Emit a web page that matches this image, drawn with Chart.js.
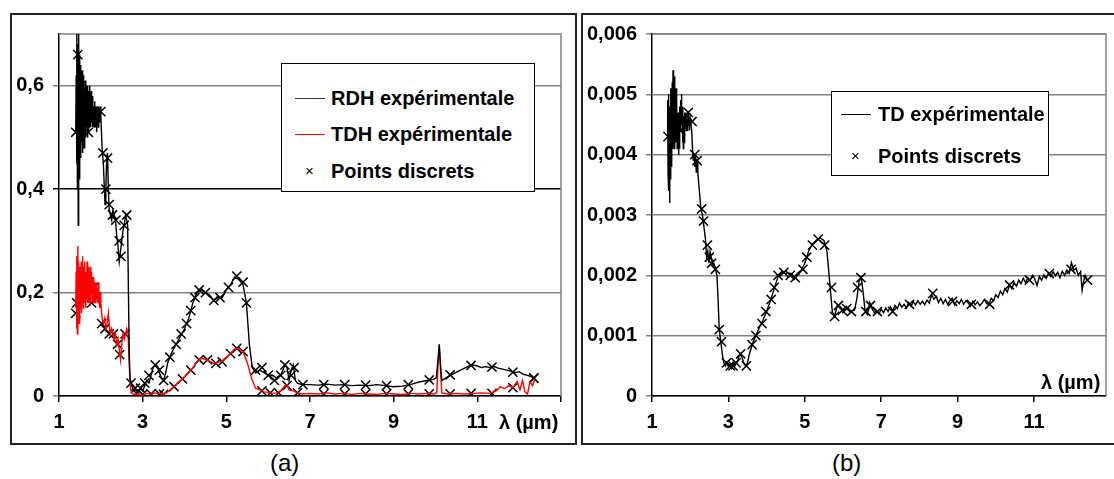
<!DOCTYPE html>
<html>
<head>
<meta charset="utf-8">
<script src="https://cdn.jsdelivr.net/npm/chart.js@4.4.0/dist/chart.umd.min.js"></script>
<style>
body{margin:0;background:#fff;width:1114px;height:479px;overflow:hidden;position:relative;font-family:"Liberation Sans",Arial,sans-serif;}
canvas{position:absolute;}
.panel{position:absolute;border:2px solid #222;box-sizing:border-box;}
.legend{position:absolute;background:#fff;border:1px solid #000;box-sizing:border-box;font-weight:bold;font-size:20px;color:#000;}
.legend .row{position:absolute;left:0;height:22px;line-height:22px;white-space:nowrap;}
.legend .smp{position:absolute;top:11px;width:30px;height:0;border-top:1px solid #000;}
.legend .mk{position:absolute;top:0;font-weight:normal;font-size:15px;}
.legend .txt{position:absolute;top:0;}
.lbl{position:absolute;font-weight:bold;font-size:20px;white-space:nowrap;line-height:22px;}
.cap{position:absolute;font-size:24px;line-height:28px;}
</style>
</head>
<body>
<canvas id="chartA" width="567" height="432" style="left:10px;top:13px;"></canvas>
<canvas id="chartB" width="537" height="432" style="left:581px;top:13px;"></canvas>
<div class="panel" style="left:10px;top:13px;width:567px;height:432px;"></div>
<div class="panel" style="left:581px;top:13px;width:540px;height:432px;"></div>

<div class="legend" style="left:281px;top:63px;width:254px;height:129px;">
  <div class="row" style="top:23px;"><span class="smp" style="left:13px;border-color:#333;"></span><span class="txt" style="left:49px;">RDH expérimentale</span></div>
  <div class="row" style="top:59px;"><span class="smp" style="left:13px;border-color:#f00;"></span><span class="txt" style="left:49px;">TDH expérimentale</span></div>
  <div class="row" style="top:96px;"><span class="mk" style="left:23px;">×</span><span class="txt" style="left:49px;">Points discrets</span></div>
</div>
<div class="legend" style="left:831px;top:91px;width:218px;height:85px;">
  <div class="row" style="top:11px;"><span class="smp" style="left:9px;"></span><span class="txt" style="left:46px;">TD expérimentale</span></div>
  <div class="row" style="top:53px;"><span class="mk" style="left:19px;">×</span><span class="txt" style="left:46px;">Points discrets</span></div>
</div>

<div class="lbl" style="left:499px;top:411px;">λ (µm)</div>
<div class="lbl" style="left:1041px;top:371px;">λ (µm)</div>
<div class="cap" style="left:270px;top:449px;">(a)</div>
<div class="cap" style="left:832px;top:449px;">(b)</div>

<script>
// ---- panel (a) data : [lambda (µm), value]
var rdhPoints = [
 [1.40,0.51],[1.41,0.62],[1.42,0.45],[1.43,0.70],[1.44,0.40],[1.45,0.68],[1.46,0.33],[1.47,0.70],[1.48,0.42],[1.49,0.66],
 [1.50,0.47],[1.51,0.64],[1.52,0.46],[1.53,0.61],[1.54,0.49],[1.55,0.63],[1.56,0.47],[1.57,0.60],[1.58,0.50],[1.59,0.62],
 [1.60,0.48],[1.61,0.59],[1.62,0.51],[1.63,0.61],[1.64,0.50],[1.65,0.60],[1.66,0.52],[1.67,0.58],[1.68,0.50],[1.69,0.60],
 [1.70,0.51],[1.71,0.59],[1.72,0.52],[1.73,0.60],[1.74,0.53],[1.75,0.58],[1.76,0.52],[1.77,0.59],[1.78,0.53],[1.79,0.57],
 [1.80,0.52],[1.81,0.58],[1.82,0.53],[1.83,0.56],[1.84,0.52],[1.85,0.57],[1.86,0.53],[1.87,0.56],[1.88,0.52],[1.89,0.55],
 [1.90,0.51],[1.91,0.56],[1.92,0.53],[1.93,0.55],[1.94,0.52],[1.95,0.56],[1.96,0.53],[1.97,0.55],[1.98,0.54],[1.99,0.56],
 [2.00,0.54],[2.03,0.48],[2.06,0.45],[2.08,0.41],[2.10,0.37],[2.12,0.40],[2.14,0.46],[2.16,0.47],[2.18,0.40],[2.20,0.36],
 [2.23,0.35],[2.26,0.34],[2.29,0.36],[2.32,0.35],[2.35,0.34],[2.38,0.31],[2.41,0.29],[2.44,0.26],[2.47,0.28],[2.50,0.30],
 [2.53,0.32],[2.56,0.33],[2.59,0.35],[2.62,0.34],[2.64,0.33],[2.66,0.20],[2.68,0.08],[2.70,0.03],[2.72,0.025],[2.76,0.015],
 [2.80,0.01],[2.85,0.012],[2.90,0.008],[2.95,0.015],[3.00,0.01],[3.05,0.02],[3.10,0.03],[3.15,0.025],[3.20,0.04],[3.25,0.055],
 [3.30,0.06],[3.35,0.058],[3.40,0.045],[3.45,0.035],[3.50,0.03],[3.55,0.045],[3.60,0.065],[3.65,0.075],[3.70,0.085],[3.80,0.10],
 [3.90,0.115],[4.00,0.13],[4.10,0.15],[4.20,0.18],[4.30,0.20],[4.40,0.205],[4.50,0.20],[4.60,0.195],[4.70,0.185],[4.80,0.19],
 [4.90,0.19],[5.00,0.205],[5.10,0.215],[5.20,0.23],[5.30,0.225],[5.40,0.215],[5.48,0.18],[5.55,0.10],[5.62,0.055],[5.70,0.045],
 [5.80,0.05],[5.90,0.045],[6.00,0.04],[6.10,0.04],[6.20,0.035],[6.30,0.04],[6.40,0.06],[6.45,0.055],[6.50,0.03],[6.55,0.05],
 [6.60,0.06],[6.65,0.03],[6.70,0.025],[6.80,0.022],[7.00,0.022],[7.20,0.021],[7.40,0.023],[7.60,0.021],[7.80,0.022],[8.00,0.02],
 [8.20,0.021],[8.40,0.02],[8.60,0.022],[8.80,0.02],[9.00,0.018],[9.20,0.019],[9.40,0.022],[9.60,0.027],[9.80,0.03],[9.95,0.032],
 [10.02,0.035],[10.06,0.07],[10.09,0.10],[10.12,0.06],[10.15,0.03],[10.25,0.035],[10.40,0.042],[10.60,0.05],[10.80,0.058],[10.90,0.06],
 [11.00,0.058],[11.10,0.055],[11.20,0.057],[11.30,0.055],[11.40,0.057],[11.50,0.054],[11.60,0.052],[11.70,0.05],[11.80,0.048],[11.90,0.045],
 [12.00,0.047],[12.10,0.042],[12.20,0.04],[12.30,0.037],[12.38,0.034]
];
var tdhPoints = [
 [1.40,0.17],[1.41,0.24],[1.42,0.13],[1.43,0.27],[1.44,0.12],[1.45,0.29],[1.46,0.16],[1.47,0.26],[1.48,0.14],[1.49,0.25],
 [1.50,0.15],[1.51,0.23],[1.52,0.17],[1.53,0.26],[1.54,0.16],[1.55,0.24],[1.56,0.18],[1.57,0.27],[1.58,0.17],[1.59,0.25],
 [1.60,0.19],[1.61,0.26],[1.62,0.18],[1.63,0.24],[1.64,0.17],[1.65,0.23],[1.66,0.19],[1.67,0.26],[1.68,0.18],[1.69,0.24],
 [1.70,0.19],[1.71,0.25],[1.72,0.18],[1.73,0.23],[1.74,0.19],[1.75,0.25],[1.76,0.18],[1.77,0.24],[1.78,0.20],[1.79,0.23],
 [1.80,0.18],[1.81,0.22],[1.82,0.19],[1.83,0.23],[1.84,0.18],[1.85,0.22],[1.86,0.19],[1.87,0.21],[1.88,0.18],[1.89,0.22],
 [1.90,0.19],[1.91,0.21],[1.92,0.18],[1.93,0.21],[1.94,0.19],[1.95,0.22],[1.96,0.18],[1.97,0.20],[1.98,0.17],[1.99,0.20],
 [2.00,0.18],[2.03,0.15],[2.06,0.14],[2.09,0.15],[2.12,0.13],[2.15,0.14],[2.18,0.16],[2.20,0.14],[2.23,0.12],[2.26,0.13],
 [2.29,0.12],[2.32,0.11],[2.35,0.12],[2.38,0.10],[2.41,0.11],[2.44,0.09],[2.47,0.07],[2.50,0.10],[2.53,0.12],[2.56,0.11],
 [2.59,0.12],[2.62,0.13],[2.65,0.12],[2.68,0.06],[2.71,0.015],[2.75,0.005],[2.80,0.003],[2.90,0.004],[3.00,0.002],[3.10,0.005],
 [3.20,0.004],[3.30,0.006],[3.40,0.004],[3.50,0.003],[3.60,0.008],[3.70,0.015],[3.80,0.022],[3.90,0.03],[4.00,0.037],[4.10,0.045],
 [4.20,0.055],[4.30,0.066],[4.40,0.073],[4.50,0.071],[4.60,0.067],[4.70,0.063],[4.80,0.065],[4.90,0.068],[5.00,0.075],[5.10,0.082],
 [5.20,0.091],[5.30,0.092],[5.40,0.085],[5.50,0.065],[5.60,0.035],[5.70,0.015],[5.80,0.012],[5.90,0.008],[6.00,0.007],[6.10,0.005],
 [6.20,0.006],[6.30,0.01],[6.40,0.02],[6.45,0.022],[6.50,0.012],[6.60,0.01],[6.70,0.006],[6.80,0.004],[7.00,0.005],[7.20,0.004],
 [7.40,0.006],[7.60,0.004],[7.80,0.005],[8.00,0.003],[8.20,0.005],[8.40,0.004],[8.60,0.003],[8.80,0.005],[9.00,0.004],[9.20,0.003],
 [9.40,0.005],[9.60,0.004],[9.80,0.005],[9.95,0.004],[10.03,0.006],[10.06,0.06],[10.09,0.098],[10.12,0.05],[10.15,0.006],[10.30,0.004],
 [10.50,0.005],[10.70,0.004],[10.90,0.005],[11.10,0.006],[11.30,0.005],[11.45,0.01],[11.55,0.018],[11.65,0.014],[11.75,0.02],[11.85,0.016],
 [11.95,0.028],[12.02,0.012],[12.08,0.03],[12.14,0.008],[12.20,0.004],[12.26,0.028],[12.32,0.02],[12.38,0.034]
];
var rdhCrosses = [
 [1.40,0.51],[1.45,0.66],[1.70,0.51],[1.88,0.54],[2.00,0.55],[2.05,0.47],[2.12,0.40],[2.16,0.46],[2.20,0.37],[2.28,0.35],
 [2.36,0.34],[2.44,0.30],[2.48,0.27],[2.56,0.33],[2.62,0.35],[2.72,0.025],[2.82,0.015],[2.95,0.015],[3.05,0.025],[3.15,0.04],
 [3.30,0.06],[3.40,0.05],[3.50,0.03],[3.65,0.075],[3.80,0.10],[3.92,0.12],[4.05,0.14],[4.15,0.165],[4.25,0.19],[4.35,0.205],
 [4.50,0.20],[4.70,0.185],[4.85,0.19],[5.05,0.21],[5.25,0.232],[5.40,0.22],[5.48,0.18],[5.70,0.05],[5.85,0.055],[6.00,0.04],
 [6.15,0.03],[6.30,0.04],[6.40,0.06],[6.55,0.04],[6.62,0.055],[6.83,0.022],[7.33,0.022],[7.83,0.022],[8.33,0.021],[8.83,0.02],
 [9.35,0.022],[9.85,0.031],[10.35,0.041],[10.85,0.059],[11.35,0.056],[11.85,0.046],[12.35,0.035]
];
var tdhCrosses = [
 [1.40,0.16],[1.42,0.18],[1.52,0.21],[1.58,0.22],[1.65,0.19],[1.72,0.21],[1.78,0.18],[1.85,0.21],[1.90,0.19],[2.02,0.14],
 [2.10,0.13],[2.20,0.12],[2.30,0.12],[2.40,0.10],[2.45,0.08],[2.58,0.12],[2.85,0.005],[3.00,0.003],[3.20,0.004],[3.40,0.004],
 [3.50,0.003],[3.75,0.018],[3.95,0.033],[4.15,0.05],[4.35,0.07],[4.55,0.07],[4.75,0.063],[4.90,0.066],[5.10,0.082],[5.25,0.092],
 [5.40,0.086],[5.85,0.01],[6.05,0.006],[6.25,0.006],[6.45,0.02],[6.70,0.006],[7.33,0.004],[7.83,0.004],[8.33,0.004],[8.83,0.004],
 [9.35,0.004],[9.85,0.004],[10.35,0.004],[10.85,0.005],[11.35,0.005],[11.85,0.016],[12.35,0.034]
];
var xTicksA = [1, 3, 5, 7, 9, 11, 13];
var yTicksA = [0, 0.2, 0.4, 0.6];

// ---- panel (b) data
var tdPoints = [
 [1.40,0.0043],[1.41,0.0049],[1.42,0.0037],[1.43,0.0050],[1.44,0.0034],[1.45,0.0048],[1.46,0.0032],[1.47,0.0047],[1.48,0.0036],[1.49,0.0051],
 [1.50,0.0040],[1.51,0.0049],[1.52,0.0038],[1.53,0.0052],[1.54,0.0041],[1.55,0.0054],[1.56,0.0042],[1.57,0.0050],[1.58,0.0041],[1.59,0.0053],
 [1.60,0.0043],[1.61,0.0048],[1.62,0.0042],[1.63,0.0051],[1.64,0.0044],[1.65,0.0049],[1.66,0.0041],[1.67,0.0047],[1.68,0.0042],[1.69,0.0046],
 [1.70,0.0040],[1.71,0.0047],[1.72,0.0041],[1.73,0.0048],[1.74,0.0044],[1.75,0.0049],[1.76,0.0045],[1.77,0.0050],[1.78,0.0046],[1.79,0.0048],
 [1.80,0.0042],[1.81,0.0047],[1.82,0.0041],[1.83,0.0046],[1.84,0.0042],[1.85,0.0047],[1.86,0.0044],[1.87,0.0046],[1.88,0.0045],[1.89,0.0047],
 [1.90,0.0044],[1.91,0.0046],[1.92,0.0044],[1.93,0.0046],[1.94,0.0045],[1.95,0.0047],[1.96,0.0045],[1.97,0.0046],[1.98,0.0044],[1.99,0.0045],
 [2.00,0.0046],[2.02,0.0045],[2.04,0.0044],[2.06,0.0041],[2.08,0.0039],[2.10,0.0040],[2.12,0.0038],[2.14,0.0040],[2.16,0.0037],[2.18,0.0039],
 [2.20,0.0037],[2.24,0.0034],[2.28,0.0031],[2.32,0.0030],[2.36,0.0028],[2.40,0.0026],[2.43,0.0023],[2.46,0.0024],[2.49,0.0022],[2.52,0.0024],
 [2.55,0.0023],[2.58,0.0022],[2.62,0.0022],[2.66,0.0021],[2.70,0.0020],[2.73,0.0016],[2.76,0.0011],[2.80,0.0009],[2.84,0.0007],[2.88,0.00055],
 [2.92,0.0005],[2.96,0.00055],[3.00,0.00048],[3.04,0.00052],[3.08,0.00046],[3.12,0.00055],[3.16,0.00048],[3.20,0.00055],[3.25,0.0006],[3.30,0.0007],
 [3.35,0.00065],[3.40,0.00055],[3.45,0.0005],[3.50,0.00055],[3.55,0.0007],[3.60,0.0008],[3.65,0.0009],[3.70,0.00098],[3.80,0.00112],[3.90,0.00125],
 [4.00,0.0014],[4.10,0.00158],[4.20,0.00178],[4.30,0.00198],[4.40,0.00205],[4.50,0.00203],[4.60,0.00204],[4.70,0.00196],[4.80,0.00203],[4.90,0.00208],
 [5.00,0.0022],[5.10,0.0024],[5.20,0.00252],[5.30,0.00258],[5.40,0.00262],[5.50,0.00258],[5.58,0.0024],[5.65,0.0019],[5.72,0.0014],[5.78,0.00132],
 [5.85,0.0015],[5.92,0.00148],[6.00,0.00142],[6.10,0.00145],[6.20,0.0014],[6.30,0.00142],[6.36,0.0016],[6.42,0.0019],[6.48,0.00196],[6.53,0.0017],
 [6.58,0.0014],[6.64,0.00135],[6.70,0.00155],[6.76,0.00145],[6.82,0.00138],[6.88,0.00142],[6.94,0.00136],[7.00,0.00144],[7.06,0.00138],[7.12,0.00146],
 [7.18,0.0014],[7.24,0.00148],[7.30,0.00141],[7.36,0.0015],[7.42,0.00145],[7.48,0.00154],[7.54,0.00147],[7.60,0.00152],[7.66,0.00146],[7.72,0.00155],
 [7.78,0.00149],[7.84,0.00156],[7.90,0.00151],[7.96,0.00158],[8.02,0.00152],[8.08,0.00157],[8.14,0.00151],[8.20,0.00159],[8.26,0.00154],[8.32,0.00168],
 [8.38,0.0016],[8.44,0.00165],[8.50,0.00155],[8.56,0.00162],[8.62,0.00153],[8.68,0.0016],[8.74,0.00152],[8.80,0.00158],[8.86,0.00162],[8.92,0.00151],
 [8.98,0.00158],[9.04,0.00153],[9.10,0.0016],[9.16,0.00152],[9.22,0.00158],[9.28,0.00154],[9.34,0.00149],[9.40,0.00157],[9.46,0.00151],[9.52,0.00156],
 [9.58,0.0015],[9.64,0.00154],[9.70,0.0016],[9.76,0.00153],[9.82,0.00152],[9.88,0.00162],[9.94,0.00158],[10.00,0.00168],[10.06,0.00163],[10.12,0.00174],
 [10.18,0.00168],[10.24,0.00178],[10.30,0.00172],[10.36,0.00184],[10.42,0.00178],[10.48,0.00188],[10.54,0.00182],[10.60,0.00192],[10.66,0.00186],[10.72,0.00195],
 [10.78,0.00188],[10.84,0.00196],[10.90,0.00192],[10.96,0.002],[11.02,0.00194],[11.08,0.00183],[11.14,0.00198],[11.20,0.00192],[11.26,0.00201],[11.32,0.00195],
 [11.38,0.00204],[11.44,0.00198],[11.50,0.00206],[11.56,0.00199],[11.62,0.00205],[11.68,0.00196],[11.74,0.00207],[11.80,0.002],[11.86,0.00209],[11.92,0.00203],
 [11.98,0.00221],[12.04,0.00208],[12.10,0.00212],[12.16,0.002],[12.22,0.00206],[12.26,0.00175],[12.30,0.0019],[12.34,0.002],[12.40,0.00192]
];
var tdCrosses = [
 [1.42,0.0043],[1.55,0.0046],[1.65,0.0045],[1.75,0.0044],[1.85,0.0046],[1.95,0.0047],[2.05,0.00455],[2.12,0.004],[2.18,0.0039],[2.30,0.0031],
 [2.35,0.0029],[2.45,0.0025],[2.50,0.0023],[2.56,0.0022],[2.66,0.0021],[2.76,0.0011],[2.82,0.0009],[2.95,0.00055],[3.05,0.0005],[3.12,0.0005],
 [3.20,0.00055],[3.32,0.0007],[3.47,0.0005],[3.62,0.00085],[3.72,0.001],[3.88,0.0012],[3.98,0.0014],[4.12,0.0016],[4.20,0.0018],[4.30,0.002],
 [4.45,0.00205],[4.62,0.002],[4.75,0.00196],[4.95,0.0021],[5.05,0.0023],[5.20,0.0025],[5.35,0.0026],[5.52,0.0025],[5.70,0.0018],[5.78,0.00132],
 [5.88,0.0015],[5.98,0.00142],[6.10,0.00145],[6.22,0.0014],[6.38,0.0018],[6.47,0.00196],[6.60,0.0014],[6.72,0.0015],[6.90,0.0014],[7.30,0.0014],
 [7.74,0.00152],[8.35,0.0017],[8.87,0.00157],[9.36,0.00152],[9.84,0.00152],[10.36,0.00184],[10.88,0.00192],[11.40,0.00203],[11.97,0.0021],[12.40,0.00192]
];
var xTicksB = [1, 3, 5, 7, 9, 11];
var yTicksB = [0, 0.001, 0.002, 0.003, 0.004, 0.005, 0.006];

Chart.defaults.font.family = '"Liberation Sans", Arial, sans-serif';
Chart.defaults.color = '#000';

function toXY(arr){
  return arr.map(function(p){ return {x: p[0], y: p[1]}; });
}
function lineSet(arr, color){
  return {data: toXY(arr), showLine: true, borderColor: color, borderWidth: 1.4, pointRadius: 0, tension: 0};
}
function crossSet(arr){
  // crossRot = the "x" marker
  return {data: toXY(arr), showLine: false, pointStyle: 'crossRot', pointRadius: 6.5, borderColor: '#000', borderWidth: 1.5, backgroundColor: '#000'};
}

// gray frame on top & right of plot area
var frame = {
  id: 'frame',
  beforeDatasetsDraw: function(chart){
    var a = chart.chartArea, c = chart.ctx;
    c.save();
    c.strokeStyle = '#808080';
    c.lineWidth = 1.5;
    c.beginPath();
    c.moveTo(a.left, a.top);
    c.lineTo(a.right, a.top);
    c.lineTo(a.right, a.bottom);
    c.stroke();
    c.restore();
  }
};

function makeChart(id, datasets, o){
  return new Chart(document.getElementById(id), {
    type: 'scatter',
    data: {datasets: datasets},
    plugins: [frame],
    options: {
      responsive: false,
      animation: false,
      devicePixelRatio: 1,
      layout: {padding: {top: 18, right: o.padRight, left: 0, bottom: 0}},
      plugins: {legend: {display: false}, tooltip: {enabled: false}},
      scales: {
        x: {
          type: 'linear', min: 1, max: o.xMax,
          afterBuildTicks: function(s){ s.ticks = o.xTicks.map(function(v){ return {value: v}; }); },
          afterFit: function(s){ s.height = 49; },
          grid: {drawOnChartArea: false, tickLength: 6, color: '#000', lineWidth: 1.5},
          border: {color: '#000', width: 1.5},
          ticks: {font: {size: 20, weight: 'bold'}, padding: 8, maxRotation: 0,
            callback: function(v){ return v > 12 ? '' : String(v); }}
        },
        y: {
          min: 0, max: o.yMax,
          afterBuildTicks: function(s){ s.ticks = o.yTicks.map(function(v){ return {value: v}; }); },
          afterFit: function(s){ s.width = o.yWidth; },
          grid: {tickLength: 6, lineWidth: 1.5,
            color: function(ctx){ return o.darkTick === ctx.tick.value ? '#000' : '#808080'; }},
          border: {color: '#000', width: 1.5},
          ticks: {font: {size: 20, weight: 'bold'}, padding: 9,
            callback: function(v){ return v === 0 ? '0' : v.toFixed(o.dec).replace('.', ','); }}
        }
      }
    }
  });
}

makeChart('chartA', [lineSet(rdhPoints, '#000'), lineSet(tdhPoints, '#ff0000'), crossSet(rdhCrosses), crossSet(tdhCrosses)],
  {xMax: 13, xTicks: xTicksA, yMax: 0.7, yTicks: yTicksA, dec: 1, yWidth: 49, padRight: 16, darkTick: 0.4});
makeChart('chartB', [lineSet(tdPoints, '#000'), crossSet(tdCrosses)],
  {xMax: 12.885, xTicks: xTicksB, yMax: 0.006, yTicks: yTicksB, dec: 3, yWidth: 71, padRight: 12, darkTick: -1});
</script>
</body>
</html>
